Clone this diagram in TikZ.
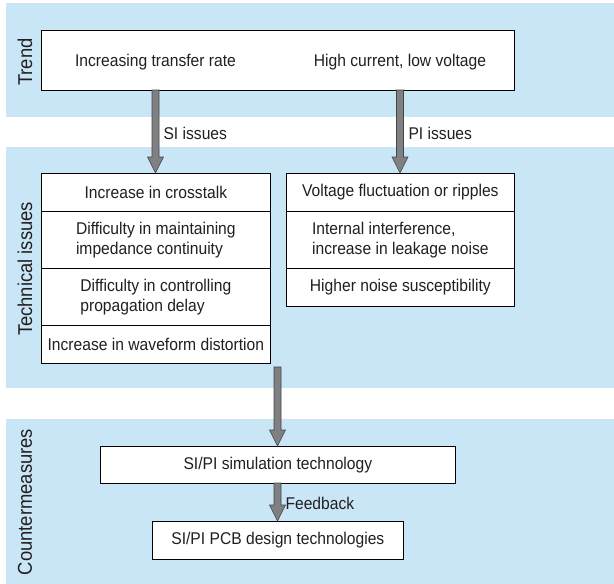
\documentclass[tikz,border=0pt]{standalone}
\usepackage{fontspec}
\setmainfont{Liberation Sans}[FakeStretch=0.92]
\usetikzlibrary{calc}
\definecolor{band}{RGB}{201,230,247}
\definecolor{arrfill}{RGB}{128,128,130}
\definecolor{arrline}{RGB}{70,70,72}
\definecolor{txt}{RGB}{35,31,32}
\newcommand{\fatarr}[2]{%
  \filldraw[fill=arrfill,draw=arrline,line width=0.6pt,line join=miter]
    ($(#1)+(-3.5,0)$) -- ($(#2)+(-3.5,-16)$) -- ($(#2)+(-8,-16)$) -- (#2)
    -- ($(#2)+(8,-16)$) -- ($(#2)+(3.5,-16)$) -- ($(#1)+(3.5,0)$) -- cycle;}
\begin{document}
\begin{tikzpicture}[x=1pt,y=-1pt,
  every node/.style={text=txt,font=\fontsize{17}{20}\selectfont},
  box/.style={draw=black,line width=0.7pt,fill=white,inner sep=0pt,anchor=north west},
  side/.style={rotate=90,anchor=center,font=\fontsize{20}{24}\selectfont}]
\useasboundingbox (0,0) rectangle (614,584);
\fill[white] (0,0) rectangle (614,584);
% bands
\fill[band] (6,3) rectangle (614,117);
\fill[band] (6,147) rectangle (614,388);
\fill[band] (6,419) rectangle (614,584);
% side labels
\node[side] (ltrend) at (25,62) {Trend};
\node[side] (ltech) at (25,269) {Technical issues};
\node[side] (lcount) at (25,502) {Countermeasures};
% trend box
\node[box,minimum width=473pt,minimum height=60pt] (trend) at (41,30) {};
\node (t1) at (155.5,62) {Increasing transfer rate};
\node (t2) at (400,62) {High current, low voltage};
% left column
\node[box,minimum width=229pt,minimum height=38pt] (s1) at (41,173) {};
\node[box,minimum width=229pt,minimum height=57pt] (s2) at (41,211) {};
\node[box,minimum width=229pt,minimum height=57pt] (s3) at (41,268) {};
\node[box,minimum width=229pt,minimum height=38pt] (s4) at (41,325) {};
\node at (s1.center) {Increase in crosstalk};
\node[align=left] at (s2.center) {Difficulty in maintaining\\impedance continuity};
\node[align=left] at (s3.center) {Difficulty in controlling\\propagation delay};
\node at (s4.center) {Increase in waveform distortion};
% right column
\node[box,minimum width=228pt,minimum height=38pt] (p1) at (286,173) {};
\node[box,minimum width=228pt,minimum height=57pt] (p2) at (286,211) {};
\node[box,minimum width=228pt,minimum height=38pt] (p3) at (286,268) {};
\node at (p1.center) {Voltage fluctuation or ripples};
\node[align=left] at (p2.center) {Internal interference,\\increase in leakage noise};
\node at (p3.center) {Higher noise susceptibility};
% countermeasures
\node[box,minimum width=355pt,minimum height=37pt] (sim) at (100,446) {};
\node at (sim.center) {SI/PI simulation technology};
\node[box,minimum width=251pt,minimum height=38pt] (pcb) at (152,521) {};
\node at (pcb.center) {SI/PI PCB design technologies};
% arrows
\coordinate (a1s) at (155.5,90);
\coordinate (a1e) at (155.5,173);
\coordinate (a2s) at (400,90);
\coordinate (a2e) at (400,173);
\coordinate (a3s) at (277.5,367);
\coordinate (a3e) at (277.5,446);
\coordinate (a4s) at (277.5,483);
\coordinate (a4e) at (277.5,521);
\fatarr{a1s}{a1e}
\fatarr{a2s}{a2e}
\fatarr{a3s}{a3e}
\fatarr{a4s}{a4e}
\node[anchor=west] (lsi) at (160,133) {SI issues};
\node[anchor=west] (lpi) at (405,133) {PI issues};
\node[anchor=west] (lfb) at (282,503) {Feedback};
\end{tikzpicture}
\end{document}
